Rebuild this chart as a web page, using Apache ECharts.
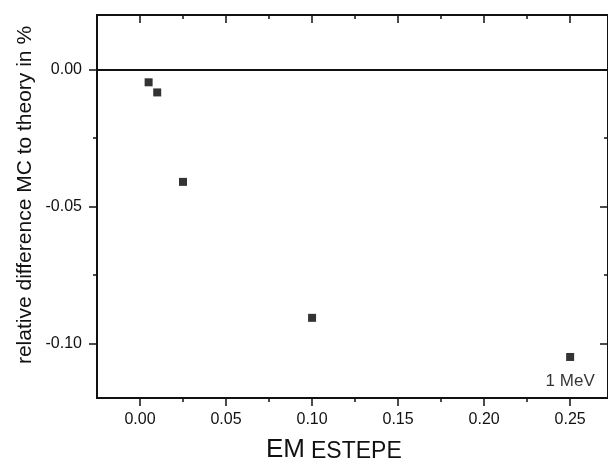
<!DOCTYPE html>
<html>
<head>
<meta charset="utf-8">
<script src="https://cdn.jsdelivr.net/npm/echarts@6/dist/echarts.min.js"></script>
<style>
  html, body { margin: 0; padding: 0; background: #fff; }
  #chart { width: 608px; height: 461px; }
</style>
</head>
<body>
<div id="chart"></div>
<script>
// ---- data ----
const stepValues = [0.005, 0.01, 0.025, 0.1, 0.25];
const relDiff = [-0.0046, -0.0083, -0.041, -0.0907, -0.105];
const pointLabels = ['', '', '', '', '1 MeV'];
const xMajorTicks = [0.00, 0.05, 0.10, 0.15, 0.20, 0.25];
const xMinorTicks = [0.025, 0.075, 0.125, 0.175, 0.225];
const yMajorTicks = [-0.10, -0.05, 0.00];
const yMinorTicks = [-0.075, -0.025];
const xTitleMain = 'EM';
const xTitleSub = 'ESTEPE';
const yTitle = 'relative difference MC to theory in %';

const X_MIN = -0.025, X_MAX = 0.272;
const Y_MIN = -0.12, Y_MAX = 0.02;
const FONT = 'Liberation Sans, Arial, Helvetica, sans-serif';
const INK = '#111111';

function xAxisDef(position, ticks, len, inside, labels) {
  return {
    type: 'value', position: position, min: X_MIN, max: X_MAX,
    axisLine: { show: true, onZero: false, lineStyle: { color: INK, width: 2 } },
    axisTick: { show: true, inside: inside, length: len, customValues: ticks,
                lineStyle: { color: INK, width: 1.5 } },
    axisLabel: labels ? { show: true, customValues: ticks, margin: 14, fontSize: 16,
                fontFamily: FONT, color: INK, formatter: v => Number(v).toFixed(2) }
              : { show: false },
    splitLine: { show: false }
  };
}
function yAxisDef(position, ticks, len, inside, labels) {
  return {
    type: 'value', position: position, min: Y_MIN, max: Y_MAX,
    axisLine: { show: true, onZero: false, lineStyle: { color: INK, width: 2 } },
    axisTick: { show: true, inside: inside, length: len, customValues: ticks,
                lineStyle: { color: INK, width: 1.5 } },
    axisLabel: labels ? { show: true, customValues: ticks, margin: 15, fontSize: 16,
                fontFamily: FONT, color: INK, formatter: v => Number(v).toFixed(2) }
              : { show: false },
    splitLine: { show: false }
  };
}

const chart = echarts.init(document.getElementById('chart'), null, { renderer: 'canvas' });
const option = {
  backgroundColor: '#ffffff',
  animation: false,
  grid: { left: 97, top: 15, width: 513, height: 383, containLabel: false },
  xAxis: [
    xAxisDef('bottom', xMajorTicks, 8, false, true),
    xAxisDef('bottom', xMinorTicks, 4, false, false),
    xAxisDef('top', xMajorTicks, 8, true, false),
    xAxisDef('top', xMinorTicks, 4, true, false)
  ],
  yAxis: [
    yAxisDef('left', yMajorTicks, 8, false, true),
    yAxisDef('left', yMinorTicks, 4, false, false),
    yAxisDef('right', yMajorTicks, 8, true, false),
    yAxisDef('right', yMinorTicks, 4, true, false)
  ],
  series: [{
    type: 'scatter',
    xAxisIndex: 0, yAxisIndex: 0,
    symbol: 'rect', symbolSize: 8,
    itemStyle: { color: '#000' },
    data: stepValues.map((x, i) => ({
      value: [x, relDiff[i]],
      label: {
        show: pointLabels[i] !== '', formatter: pointLabels[i], position: 'bottom',
        distance: 12, fontSize: 17, fontFamily: FONT, color: '#000',
        textBorderWidth: 0
      }
    })),
    markLine: {
      silent: true, symbol: 'none',
      label: { show: false },
      lineStyle: { color: INK, width: 2, type: 'solid' },
      data: [{ yAxis: 0 }]
    }
  }],
  graphic: [
    {
      type: 'text', x: 25, y: 195, rotation: Math.PI / 2,
      style: { text: yTitle, font: '21px ' + FONT, fill: INK,
               textAlign: 'center', textVerticalAlign: 'middle' }
    },
    {
      type: 'text', x: 266, y: 449.5,
      style: { text: xTitleMain, font: '26px ' + FONT, fill: INK,
               textAlign: 'left', textVerticalAlign: 'middle' }
    },
    {
      type: 'text', x: 311, y: 451.5,
      style: { text: xTitleSub, font: '23px ' + FONT, fill: INK,
               textAlign: 'left', textVerticalAlign: 'middle' }
    }
  ]
};
chart.setOption(option);
</script>
</body>
</html>
